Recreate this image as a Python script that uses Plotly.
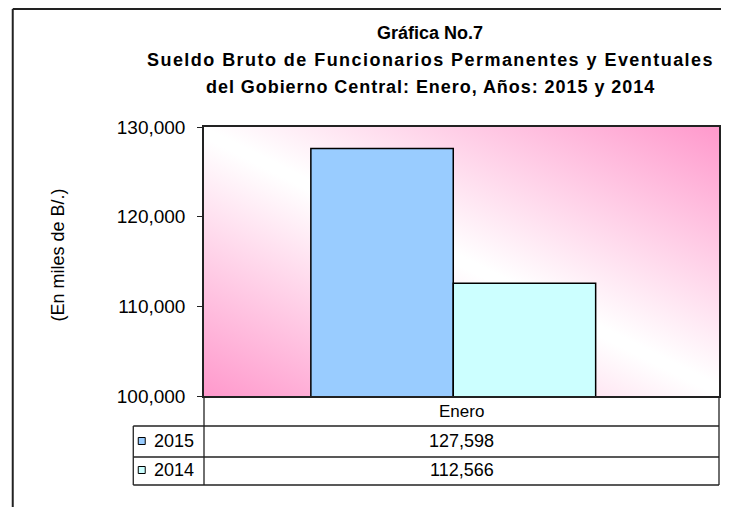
import plotly.graph_objects as go
import urllib.parse

categories = ["Enero"]
series_names = ["2015", "2014"]
values_2015 = [127598]
values_2014 = [112566]
series_colors = ["#99CCFF", "#CCFFFF"]
y_ticks = [100000, 110000, 120000, 130000]

OFF = 8  # page body margin
W, H = 729 - OFF, 507 - OFF
L, R, T, B = 204 - OFF, 721 - OFF, 127 - OFF, 396 - OFF


def px2x(px):
    return (px - OFF - L) / (R - L)


def py2y(py):
    return (B - (py - OFF)) / (B - T)


FONT = "Liberation Sans, Arial, sans-serif"

fig = go.Figure()
for name, vals, col in zip(series_names, [values_2015, values_2014], series_colors):
    fig.add_trace(go.Bar(
        x=categories, y=vals, name=name,
        marker=dict(color=col, line=dict(color="black", width=1.5)),
        showlegend=False, hoverinfo="y",
    ))

svg = ('<svg xmlns="http://www.w3.org/2000/svg" width="517" height="269" viewBox="0 0 517 269" '
       'preserveAspectRatio="none"><defs><linearGradient id="g" gradientUnits="userSpaceOnUse" '
       'x1="0" y1="269" x2="211" y2="-153">'
       '<stop offset="0" stop-color="#FF99CC"/><stop offset="0.49" stop-color="#FFFFFF"/>'
       '<stop offset="0.51" stop-color="#FFFFFF"/><stop offset="1" stop-color="#FF99CC"/>'
       '</linearGradient></defs><rect width="517" height="269" fill="url(#g)"/></svg>')
uri = "data:image/svg+xml;charset=utf-8," + urllib.parse.quote(svg)

fig.add_layout_image(dict(source=uri, xref="paper", yref="paper", x=0, y=1,
                          sizex=1, sizey=1, sizing="stretch", layer="below",
                          xanchor="left", yanchor="top"))

shapes = []
def line(x0, y0, x1, y1, w=1.3, c="#222222"):
    shapes.append(dict(type="line", xref="paper", yref="paper",
                       x0=px2x(x0), y0=py2y(y0), x1=px2x(x1), y1=py2y(y1),
                       line=dict(color=c, width=w)))

# outer frame
line(12, 9, 729, 9, w=2)
line(12, 9, 12, 507, w=2)
# table lines
line(204, 396, 204, 485)
line(721, 396, 721, 485)
line(133, 426, 721, 426)
line(133, 457, 721, 457)
line(133, 485, 721, 485)
line(133, 426, 133, 485)

annotations = []
row_y = [441, 470]
for i, (name, vals, col) in enumerate(zip(series_names, [values_2015, values_2014], series_colors)):
    yc = row_y[i]
    shapes.append(dict(type="rect", xref="paper", yref="paper",
                       x0=px2x(138), x1=px2x(145), y0=py2y(yc - 3.5), y1=py2y(yc + 3.5),
                       fillcolor=col, line=dict(color="black", width=1)))
    annotations.append(dict(text=name, xref="paper", yref="paper", x=px2x(152), y=py2y(yc),
                            xanchor="left", yanchor="middle", showarrow=False,
                            font=dict(family=FONT, size=18, color="black")))
    annotations.append(dict(text=f"{vals[0]:,}", xref="paper", yref="paper", x=0.5, y=py2y(yc),
                            xanchor="center", yanchor="middle", showarrow=False,
                            font=dict(family=FONT, size=18, color="black")))
annotations.append(dict(text=categories[0], xref="paper", yref="paper", x=0.5, y=py2y(411),
                        xanchor="center", yanchor="middle", showarrow=False,
                        font=dict(family=FONT, size=17, color="black")))

titles = [("Gráfica No.7", 0),
          ("Sueldo Bruto de Funcionarios Permanentes y Eventuales", 1.45),
          ("del Gobierno Central: Enero, Años: 2015 y 2014", 0.95)]
for (t, ls), yy in zip(titles, [33, 60, 87]):
    txt = f"<b><span style='letter-spacing:{ls}px'>{t}</span></b>" if ls else f"<b>{t}</b>"
    annotations.append(dict(text=txt, xref="paper", yref="paper", x=px2x(431), y=py2y(yy),
                            xanchor="center", yanchor="middle", showarrow=False,
                            font=dict(family=FONT, size=18, color="black")))
annotations.append(dict(text="(En miles de B/.)", xref="paper", yref="paper", x=px2x(57), y=py2y(255),
                        xanchor="center", yanchor="middle", showarrow=False, textangle=-90,
                        font=dict(family=FONT, size=18, color="black")))

fig.update_layout(
    width=W, height=H,
    margin=dict(l=L, r=W - R, t=T, b=H - B, pad=0),
    paper_bgcolor="white", plot_bgcolor="rgba(0,0,0,0)",
    barmode="group", bargap=0.447, bargroupgap=0,
    shapes=shapes, annotations=annotations,
    font=dict(family=FONT, color="black"),
)
fig.update_xaxes(range=[-0.484, 0.516], showticklabels=False, ticks="",
                 showline=True, linecolor="#222222", linewidth=1.5, mirror=True,
                 showgrid=False, zeroline=False, fixedrange=True)
fig.update_yaxes(range=[100000, 130000], tickvals=y_ticks, tickformat=",",
                 ticks="outside", ticklen=5, tickcolor="#222222",
                 showline=True, linecolor="#222222", linewidth=1.5, mirror=True,
                 showgrid=False, zeroline=False, ticklabelstandoff=8,
                 tickfont=dict(family=FONT, size=19, color="black"), fixedrange=True)

fig.write_html("out.html")
